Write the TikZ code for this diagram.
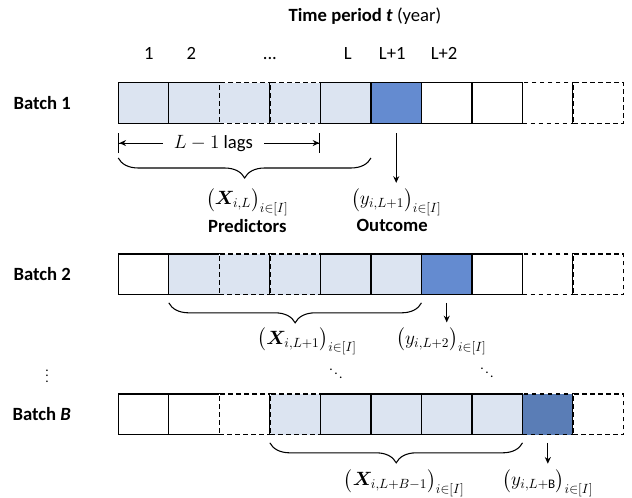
\documentclass[tikz,border=0pt]{standalone}
\usepackage{fontspec}
\setmainfont{Carlito}
\usepackage{amsmath}
\usepackage{bm}
\usetikzlibrary{arrows.meta,positioning}
\usetikzlibrary{decorations.pathreplacing}
\definecolor{cell_light}{HTML}{DCE4F1}
\definecolor{cell_dark}{HTML}{648BD0}
\definecolor{cell_darkB}{HTML}{5A7DB6}

\begin{document}
\begin{tikzpicture}[
	    x=0.75pt, y=-0.75pt,
	    onlytext/.style={align=center, font=\fontsize{14}{17}\selectfont},
	    boldtext/.style={onlytext, font=\fontsize{14}{17}\selectfont\bfseries},
	    numtext/.style={onlytext, text height=9pt, text depth=0pt},
	    mathlabel/.style={font=\fontsize{14}{17}\selectfont, inner sep=1pt},
	    dotlabel/.style={font=\fontsize{10}{12}\selectfont, inner sep=0pt},
	    cell/.style={rectangle, draw, line width=1pt, outer sep=0pt, inner sep=0pt, minimum width=37.9pt, minimum height=30.5pt},
	    whitecell/.style={cell, fill=white},
	    lightcell/.style={cell, fill=cell_light},
	    darkcell/.style={cell, fill=cell_dark},
	    dashcell/.style={dash pattern=on 3.5pt off 2.5pt},
	    normalline/.style={-{Stealth[length=5pt, width=4.5pt]}, line width=0.8pt},
	    bracket/.style={decorate, decoration={brace, mirror, amplitude=15pt}, line width=0.8pt},
	    lagline/.style={{Bar[width=15pt]Stealth[length=5pt, width=4.5pt]}-{Stealth[length=5pt, width=4.5pt]Bar[width=15pt]}, line width=0.8pt},
	]
	\useasboundingbox (0,0) rectangle (632,498);

	% Batch 1
	\node[lightcell] (b1c1) at (143.55,103) {};
	\node[lightcell, right=0pt of b1c1] (b1c2) {};
	\node[lightcell, dashcell, right=0pt of b1c2] (b1c3) {};
	\node[lightcell, dashcell, right=0pt of b1c3] (b1c4) {};
	\node[lightcell, right=0pt of b1c4] (b1c5) {};
	\node[darkcell, right=0pt of b1c5] (b1c6) {};
	\node[whitecell, right=0pt of b1c6] (b1c7) {};
	\node[whitecell, right=0pt of b1c7] (b1c8) {};
	\node[whitecell, dashcell, right=0pt of b1c8] (b1c9) {};
	\node[whitecell, dashcell, right=0pt of b1c9] (b1c10) {};

	% Batch 2
	\node[whitecell] (b2c1) at (143.55,274.5) {};
	\node[lightcell, right=0pt of b2c1] (b2c2) {};
	\node[lightcell, dashcell, right=0pt of b2c2] (b2c3) {};
	\node[lightcell, dashcell, right=0pt of b2c3] (b2c4) {};
	\node[lightcell, right=0pt of b2c4] (b2c5) {};
	\node[lightcell, right=0pt of b2c5] (b2c6) {};
	\node[darkcell, right=0pt of b2c6] (b2c7) {};
	\node[whitecell, right=0pt of b2c7] (b2c8) {};
	\node[whitecell, dashcell, right=0pt of b2c8] (b2c9) {};
	\node[whitecell, dashcell, right=0pt of b2c9] (b2c10) {};

	% Batch B
	\node[whitecell] (b3c1) at (143.55,414.5) {};
	\node[whitecell, right=0pt of b3c1] (b3c2) {};
	\node[whitecell, dashcell, right=0pt of b3c2] (b3c3) {};
	\node[lightcell, dashcell, right=0pt of b3c3] (b3c4) {};
	\node[lightcell, right=0pt of b3c4] (b3c5) {};
	\node[lightcell, right=0pt of b3c5] (b3c6) {};
	\node[lightcell, right=0pt of b3c6] (b3c7) {};
	\node[lightcell, right=0pt of b3c7] (b3c8) {};
	\node[darkcell, fill=cell_darkB, dashcell, right=0pt of b3c8] (b3c9) {};
	\node[whitecell, dashcell, right=0pt of b3c9] (b3c10) {};

	% Time axis
	\node[onlytext] (timelabel) at (365,16) {\textbf{Time period \textit{t}} (year)};
	\node[numtext, above=14pt of b1c1, xshift=4pt] (t1) {1};
	\node[numtext, above=14pt of b1c2, xshift=-2pt] (t2) {2};
	\node[numtext, above=14pt of b1c3.north east] (tdots) {...};
	\node[numtext, above=14pt of b1c5, xshift=1.5pt] (tL) {L};
	\node[numtext, above=14pt of b1c6, xshift=-3pt] (tL1) {L+1};
	\node[numtext, above=14pt of b1c7, xshift=-2pt] (tL2) {L+2};

	% Row labels
	\node[boldtext, left=32pt of b1c1] (b1label) {Batch 1};
	\node[boldtext, left=32pt of b2c1] (b2label) {Batch 2};
	\node[boldtext, left=32pt of b3c1] (b3label) {Batch \textit{B}};
	\node[dotlabel] (bdots) at (47,372) {$\vdots$};

	% Lags
	\draw[lagline] ([yshift=-14.8pt]b1c1.south west) -- ([yshift=-14.8pt]b1c4.south east) node[onlytext, midway, fill=white, inner xsep=8pt, xshift=-4.5pt] (lagslabel) {$L-1$ lags};

	% Predictors and outcomes
	\draw[bracket] ([yshift=-26pt]b1c1.south west) -- ([yshift=-26pt]b1c5.south east) node[mathlabel, midway, yshift=-33pt, xshift=2pt] (b1x) {$\bigl(\bm{X}_{i,L}\bigr)_{i\in[I]}$};
	\node[mathlabel] (b1y) at (b1c6 |- b1x) {$\bigl(y_{i,L+1}\bigr)_{i\in[I]}$};
	\draw[normalline, shorten >=3pt] ([yshift=-7.5pt]b1c6.south) -- (b1y.north);
	\node[boldtext, below=-2pt of b1x] (predlabel) {Predictors};
	\node[boldtext, below=-2pt of b1y, xshift=-3pt] (outlabel) {Outcome};

	\draw[bracket] ([yshift=-6pt]b2c2.south west) -- ([yshift=-6pt]b2c6.south east) node[mathlabel, midway, yshift=-29pt, xshift=9pt] (b2x) {$\bigl(\bm{X}_{i,L+1}\bigr)_{i\in[I]}$};
	\node[mathlabel, xshift=-4pt] (b2y) at (b2c7 |- b2x) {$\bigl(y_{i,L+2}\bigr)_{i\in[I]}$};
	\draw[normalline, shorten >=3pt] ([yshift=-6pt]b2c7.south) -- (b2c7.south |- b2y.north);

	\node[dotlabel] (xdots) at (336,370) {$\ddots$};
	\node[dotlabel] (ydots) at (487,369) {$\ddots$};

	\draw[bracket] ([yshift=-6pt]b3c4.south west) -- ([yshift=-6pt]b3c8.south east) node[mathlabel, midway, yshift=-30pt, xshift=6pt] (b3x) {$\bigl(\bm{X}_{i,L+B-1}\bigr)_{i\in[I]}$};
	\node[mathlabel] (b3y) at (b3c9 |- b3x) {$\bigl(y_{i,L+\mathrm{B}}\bigr)_{i\in[I]}$};
	\draw[normalline, shorten >=3pt] ([yshift=-6pt]b3c9.south) -- (b3y.north);

\end{tikzpicture}
\end{document}
